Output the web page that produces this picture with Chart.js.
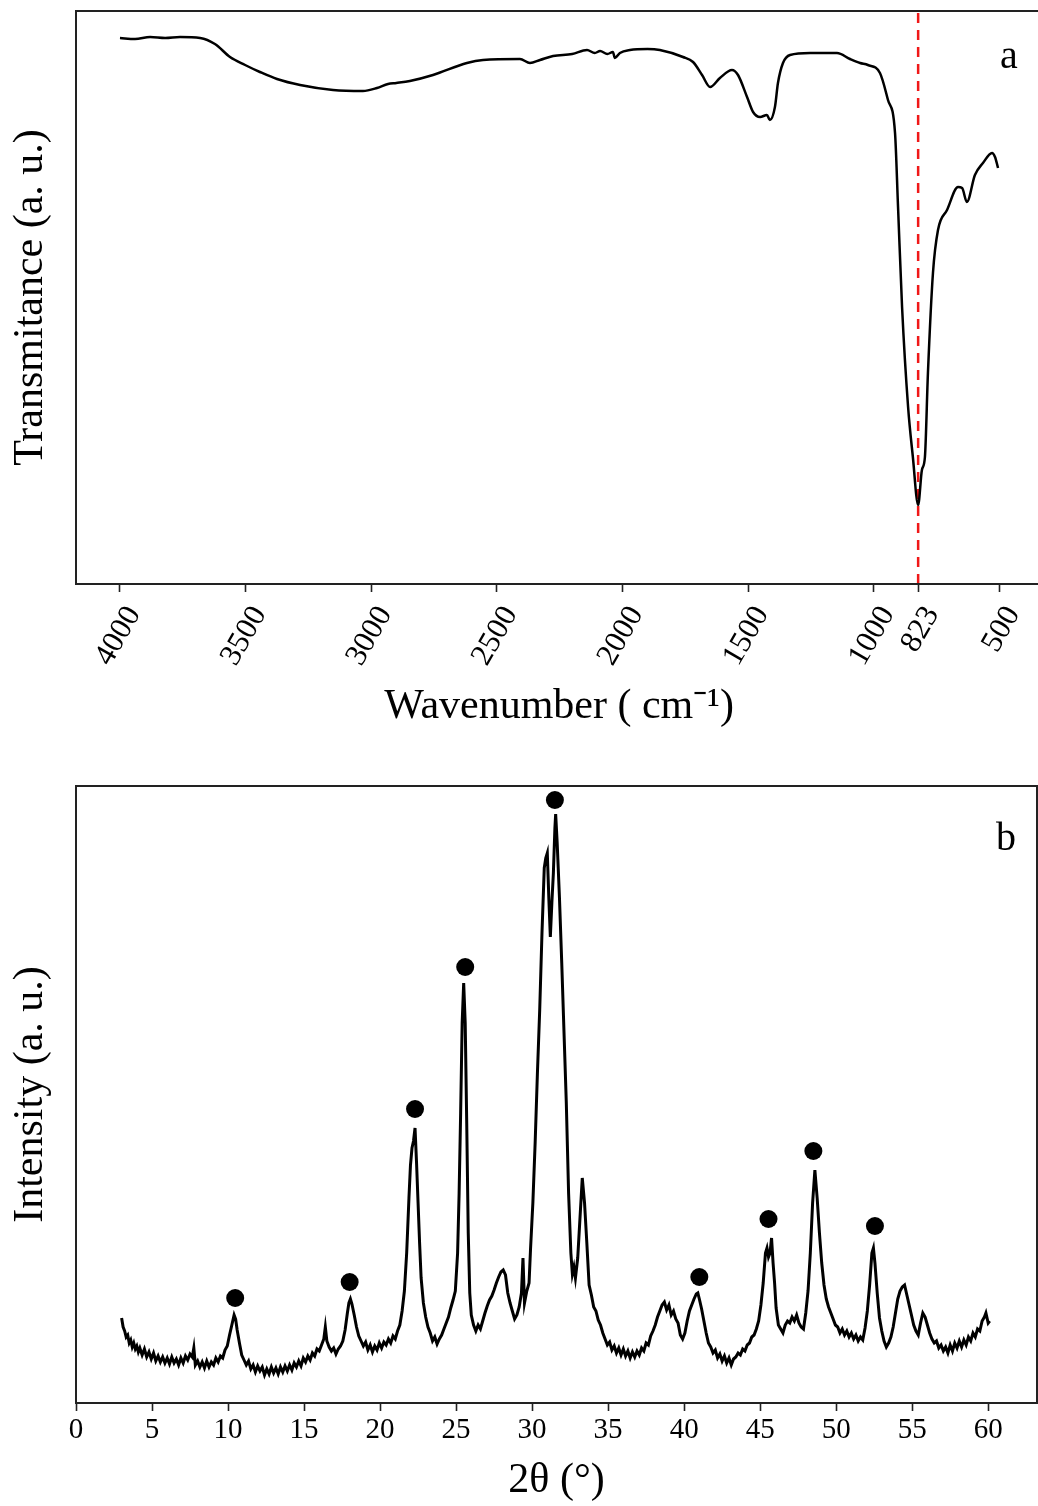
<!DOCTYPE html>
<html>
<head>
<meta charset="utf-8">
<script src="https://cdn.jsdelivr.net/npm/chart.js@4.4.1/dist/chart.umd.min.js"></script>
<style>
  html, body { margin: 0; padding: 0; background: #fff; width: 1038px; height: 1506px; overflow: hidden; }
  #wrap { position: relative; width: 1038px; height: 1506px; overflow: hidden; }
  canvas { position: absolute; left: 0; }
  #c1 { top: 0; }
  #c2 { top: 740px; }
</style>
</head>
<body>
<div id="wrap">
<canvas id="c1" width="1046" height="740"></canvas>
<canvas id="c2" width="1046" height="766"></canvas>
</div>
<script>
// ---------- Panel a: FTIR ----------
const ftirWave = [4000, 3940, 3880, 3820, 3761, 3681, 3622, 3562, 3502, 3443, 3375, 3283, 3152, 3033, 2977, 2933, 2900, 2846, 2754, 2619, 2555, 2408, 2368, 2328, 2276, 2200, 2141, 2110, 2089, 2060, 2038, 2030, 2010, 1970, 1900, 1851, 1759, 1719, 1683, 1651, 1612, 1564, 1540, 1504, 1480, 1452, 1425, 1413, 1393, 1381, 1361, 1333, 1253, 1146, 1094, 1054, 1023, 975, 943, 915, 903, 887, 863, 844, 823, 808, 796, 784, 764, 744, 708, 664, 648, 629, 597, 565, 529, 517, 505];
const ftirT    = [546, 545, 547, 546, 547, 546, 540, 527, 519, 512, 505, 499, 494, 493, 496, 500, 501, 503, 509, 521, 524, 525, 521, 524, 528, 530, 534, 531, 533, 530, 532, 526, 531, 534, 535, 534, 527, 522, 509, 497, 506, 514, 509, 487, 472, 467, 469, 464, 477, 501, 521, 529, 531, 531, 525, 521, 519, 511, 484, 451, 377, 277, 177, 127, 79, 114, 127, 211, 311, 354, 374, 397, 396, 382, 409, 421, 431, 427, 416];
const markerWave = [823];
const ftirTicks = [4000, 3500, 3000, 2500, 2000, 1500, 1000, 823, 500];
const ftirRange = [330, 4175];
const ftirYRange = [0, 573];

// ---------- Panel b: XRD ----------
const twoTheta = [3.0, 3.1, 3.2, 3.3, 3.4, 3.5, 3.6, 3.7, 3.8, 3.9, 4.0, 4.1, 4.2, 4.35, 4.5, 4.65, 4.8, 4.95, 5.1, 5.25, 5.4, 5.55, 5.7, 5.85, 6.0, 6.15, 6.3, 6.45, 6.6, 6.75, 6.9, 7.05, 7.2, 7.35, 7.5, 7.65, 7.75, 7.85, 8.0, 8.15, 8.3, 8.45, 8.6, 8.75, 8.9, 9.05, 9.2, 9.35, 9.5, 9.65, 9.8, 9.95, 10.1, 10.25, 10.4, 10.5, 10.6, 10.75, 10.9, 11.05, 11.2, 11.35, 11.5, 11.65, 11.8, 11.95, 12.1, 12.25, 12.4, 12.55, 12.7, 12.85, 13.0, 13.15, 13.3, 13.45, 13.6, 13.75, 13.9, 14.05, 14.2, 14.35, 14.5, 14.65, 14.8, 14.95, 15.1, 15.25, 15.4, 15.55, 15.7, 15.85, 16.0, 16.15, 16.3, 16.4, 16.5, 16.65, 16.8, 16.95, 17.1, 17.25, 17.4, 17.55, 17.7, 17.85, 17.95, 18.05, 18.15, 18.3, 18.45, 18.6, 18.75, 18.9, 19.05, 19.2, 19.35, 19.5, 19.65, 19.8, 19.95, 20.1, 20.25, 20.4, 20.55, 20.7, 20.85, 21.0, 21.15, 21.3, 21.45, 21.6, 21.75, 21.9, 22.0, 22.1, 22.2, 22.3, 22.4, 22.5, 22.6, 22.7, 22.85, 23.0, 23.15, 23.3, 23.45, 23.6, 23.75, 23.9, 24.05, 24.2, 24.35, 24.5, 24.65, 24.8, 24.95, 25.1, 25.2, 25.3, 25.4, 25.5, 25.6, 25.7, 25.8, 25.9, 26.0, 26.15, 26.3, 26.45, 26.6, 26.75, 26.9, 27.05, 27.2, 27.35, 27.5, 27.65, 27.8, 27.95, 28.1, 28.25, 28.4, 28.55, 28.7, 28.85, 29.0, 29.15, 29.3, 29.4, 29.5, 29.65, 29.8, 29.9, 30.05, 30.2, 30.35, 30.5, 30.65, 30.8, 30.9, 31.0, 31.1, 31.2, 31.3, 31.4, 31.5, 31.55, 31.65, 31.8, 31.95, 32.1, 32.25, 32.4, 32.55, 32.65, 32.75, 32.85, 33.0, 33.15, 33.3, 33.45, 33.6, 33.75, 33.9, 34.05, 34.2, 34.35, 34.5, 34.65, 34.8, 34.95, 35.1, 35.25, 35.4, 35.55, 35.7, 35.85, 36.0, 36.15, 36.3, 36.45, 36.6, 36.75, 36.9, 37.05, 37.2, 37.35, 37.5, 37.65, 37.8, 37.95, 38.1, 38.25, 38.4, 38.55, 38.7, 38.85, 39.0, 39.15, 39.3, 39.45, 39.6, 39.75, 39.9, 40.05, 40.2, 40.35, 40.5, 40.65, 40.8, 40.9, 41.0, 41.15, 41.3, 41.45, 41.6, 41.75, 41.9, 42.05, 42.2, 42.35, 42.5, 42.65, 42.8, 42.95, 43.1, 43.25, 43.4, 43.55, 43.7, 43.85, 44.0, 44.15, 44.3, 44.45, 44.6, 44.75, 44.9, 45.05, 45.2, 45.35, 45.45, 45.55, 45.65, 45.75, 45.85, 45.95, 46.05, 46.2, 46.35, 46.5, 46.65, 46.8, 46.95, 47.1, 47.25, 47.4, 47.55, 47.7, 47.85, 48.0, 48.15, 48.3, 48.45, 48.6, 48.75, 48.9, 49.05, 49.2, 49.35, 49.5, 49.65, 49.8, 49.95, 50.1, 50.25, 50.4, 50.55, 50.7, 50.85, 51.0, 51.15, 51.3, 51.45, 51.6, 51.75, 51.9, 52.05, 52.2, 52.35, 52.45, 52.55, 52.7, 52.85, 53.0, 53.15, 53.3, 53.45, 53.6, 53.75, 53.9, 54.05, 54.2, 54.35, 54.5, 54.65, 54.8, 54.95, 55.1, 55.25, 55.4, 55.55, 55.7, 55.85, 56.0, 56.15, 56.3, 56.45, 56.6, 56.75, 56.9, 57.05, 57.2, 57.35, 57.5, 57.65, 57.8, 57.95, 58.1, 58.25, 58.4, 58.55, 58.7, 58.85, 59.0, 59.15, 59.3, 59.45, 59.6, 59.75, 59.85, 60.0, 60.1];
const intensity = [85, 76, 72, 66, 68, 60, 63, 56, 60, 54, 57, 51, 55, 48, 54, 46, 51, 44, 50, 42, 47, 41, 46, 40, 45, 39, 46, 40, 44, 38, 45, 40, 47, 43, 49, 46, 55, 38, 42, 36, 41, 35, 42, 36, 41, 38, 45, 41, 47, 45, 53, 57, 68, 78, 88, 84, 73, 60, 48, 43, 38, 42, 34, 38, 31, 37, 32, 36, 28, 34, 29, 36, 30, 35, 29, 36, 31, 37, 32, 38, 33, 40, 36, 42, 37, 45, 41, 47, 43, 50, 47, 54, 52, 58, 64, 76, 62, 56, 52, 55, 49, 54, 57, 62, 73, 90, 100, 104, 99, 88, 76, 67, 62, 57, 61, 53, 58, 51, 57, 53, 60, 55, 61, 58, 64, 60, 67, 64, 72, 78, 92, 112, 150, 205, 238, 255, 262, 275, 240, 200, 160, 125, 100, 86, 76, 70, 62, 66, 59, 64, 68, 74, 80, 86, 95, 103, 112, 150, 210, 290, 380, 420, 380, 280, 170, 110, 88, 78, 72, 78, 74, 82, 90, 97, 103, 107, 113, 120, 126, 131, 133, 128, 110, 100, 92, 84, 88, 96, 110, 145, 100, 112, 120, 155, 200, 260, 330, 393, 470, 535, 545, 550, 505, 466, 500, 530, 575, 589, 560, 505, 440, 370, 300, 210, 150, 129, 136, 125, 145, 185, 225, 200, 160, 118, 108, 96, 92, 83, 78, 70, 64, 58, 61, 53, 57, 50, 55, 48, 54, 47, 52, 45, 51, 46, 52, 48, 55, 52, 60, 58, 67, 72, 78, 86, 92, 98, 101, 93, 98, 88, 92, 84, 80, 68, 64, 70, 82, 92, 98, 104, 109, 110, 104, 94, 82, 70, 60, 56, 50, 53, 45, 49, 42, 47, 40, 45, 38, 44, 46, 50, 48, 54, 52, 58, 60, 66, 68, 74, 82, 98, 120, 150, 155, 146, 150, 165, 140, 120, 95, 78, 74, 70, 78, 82, 80, 86, 82, 88, 80, 76, 74, 90, 112, 150, 200, 233, 205, 170, 140, 118, 104, 96, 90, 84, 78, 76, 70, 74, 68, 72, 66, 70, 64, 68, 62, 66, 63, 75, 92, 118, 150, 155, 140, 110, 85, 72, 62, 56, 60, 66, 76, 90, 104, 112, 116, 118, 108, 98, 88, 78, 72, 68, 80, 90, 86, 78, 70, 64, 60, 62, 55, 58, 52, 56, 50, 58, 52, 60, 55, 62, 56, 63, 58, 66, 62, 70, 66, 74, 72, 82, 86, 90, 80, 82];
const peakTheta = [10.47, 18.0, 22.3, 25.6, 31.5, 41.0, 45.55, 48.5, 52.55];
const peakMark  = [105, 121, 294, 436, 603, 126, 184, 252, 177];
const xrdTicks = [0, 5, 10, 15, 20, 25, 30, 35, 40, 45, 50, 55, 60];
const xrdRange = [0, 63.21];
const xrdYRange = [0, 617];

const SERIF = "'Liberation Serif', 'Times New Roman', serif";

const frame = {
  id: 'frame',
  afterDraw(chart, args, opts) {
    const {ctx, chartArea: a} = chart;
    ctx.save();
    ctx.strokeStyle = '#222';
    ctx.lineWidth = 2;
    ctx.strokeRect(a.left, a.top, a.right - a.left, a.bottom - a.top);
    ctx.fillStyle = '#000';
    ctx.font = '40px ' + SERIF;
    ctx.textAlign = 'center';
    ctx.textBaseline = 'alphabetic';
    ctx.fillText(opts.letter, a.right - opts.dx, a.top + opts.dy);
    ctx.restore();
  }
};

function xAxis(range, ticks, rotation, padding, fontSize, labelOffset, titleText, titlePad, height, reverse) {
  return {
    type: 'linear',
    reverse: reverse,
    min: range[0], max: range[1],
    afterBuildTicks: (ax) => { ax.ticks = ticks.map(v => ({value: v})); },
    afterFit: (ax) => { ax.height = height; },
    ticks: {
      autoSkip: false,
      minRotation: rotation, maxRotation: rotation,
      padding: padding,
      labelOffset: labelOffset,
      color: '#000',
      font: { family: SERIF, size: fontSize },
      callback: (v) => String(v)
    },
    grid: { display: true, drawOnChartArea: false, drawTicks: true, tickLength: 8, tickWidth: 1.6, color: '#222' },
    border: { display: false },
    title: { display: true, text: titleText, color: '#000', font: { family: SERIF, size: 42 }, padding: { top: 0, bottom: titlePad } }
  };
}

function yAxis(range, titleText) {
  return {
    type: 'linear',
    min: range[0], max: range[1],
    afterFit: (ax) => { ax.width = 76; },
    ticks: { display: false },
    grid: { display: false },
    border: { display: false },
    title: { display: true, text: titleText, color: '#000', font: { family: SERIF, size: 42 }, padding: { top: 6, bottom: 0 } }
  };
}

new Chart(document.getElementById('c1'), {
  type: 'scatter',
  data: {
    datasets: [
      {
        data: ftirWave.map((w, i) => ({x: w, y: ftirT[i]})),
        showLine: true, borderColor: '#000', borderWidth: 2.5, pointRadius: 0,
        cubicInterpolationMode: 'monotone', tension: 0.3
      },
      {
        data: [{x: markerWave[0], y: ftirYRange[0]}, {x: markerWave[0], y: ftirYRange[1]}],
        showLine: true, borderColor: '#f01818', borderWidth: 2.5, borderDash: [10, 7], pointRadius: 0
      }
    ]
  },
  options: {
    responsive: false, animation: false,
    layout: { padding: { top: 11, left: 0, right: 4, bottom: 0 } },
    plugins: { legend: { display: false }, tooltip: { enabled: false }, frame: { letter: 'a', dx: 33, dy: 57 } },
    scales: {
      x: xAxis(ftirRange, ftirTicks, 60, 8, 31, 14, 'Wavenumber ( cm\u207B\u00B9)', 8, 156, true),
      y: yAxis(ftirYRange, 'Transmitance (a. u.)')
    }
  },
  plugins: [frame]
});

new Chart(document.getElementById('c2'), {
  type: 'scatter',
  data: {
    datasets: [
      {
        data: twoTheta.map((t, i) => ({x: t, y: intensity[i]})),
        showLine: true, borderColor: '#000', borderWidth: 3, pointRadius: 0, tension: 0
      },
      {
        data: peakTheta.map((t, i) => ({x: t, y: peakMark[i]})),
        showLine: false, pointRadius: 9, pointBackgroundColor: '#000', pointBorderColor: '#000', pointBorderWidth: 0
      }
    ]
  },
  options: {
    responsive: false, animation: false,
    layout: { padding: { top: 46, left: 0, right: 4, bottom: 0 } },
    plugins: { legend: { display: false }, tooltip: { enabled: false }, frame: { letter: 'b', dx: 31, dy: 64 } },
    scales: {
      x: xAxis(xrdRange, xrdTicks, 0, 2, 29, 0, '2\u03B8 (\u00B0)', 0, 103, false),
      y: yAxis(xrdYRange, 'Intensity (a. u.)')
    }
  },
  plugins: [frame]
});
</script>
</body>
</html>
